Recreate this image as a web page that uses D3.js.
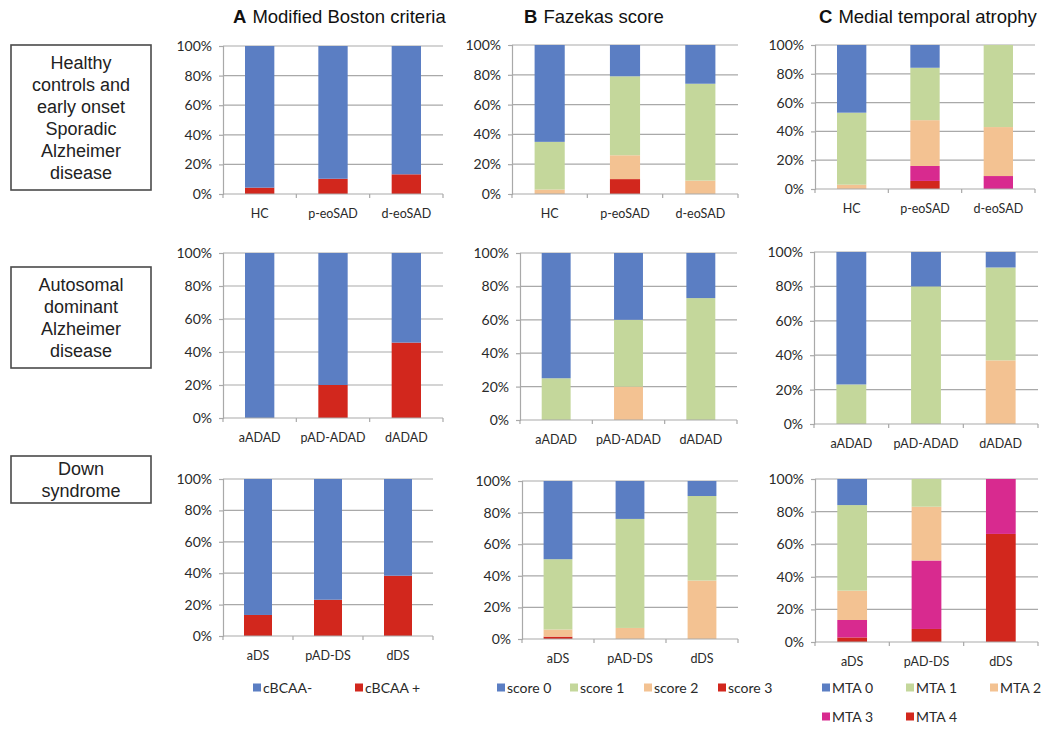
<!DOCTYPE html>
<html>
<head>
<meta charset="utf-8">
<script src="https://cdn.jsdelivr.net/npm/d3@7"></script>
<style>
  html, body { margin: 0; padding: 0; background: #fff; }
  svg { display: block; }
</style>
</head>
<body>
<svg id="chart" width="1060" height="730"></svg>
<script>
// ---- Data (percent of participants per group) ----
const rowGroups = [
  ["HC", "p-eoSAD", "d-eoSAD"],
  ["aADAD", "pAD-ADAD", "dADAD"],
  ["aDS", "pAD-DS", "dDS"]
];
const rowTitles = [
  ["Healthy", "controls and", "early onset", "Sporadic", "Alzheimer", "disease"],
  ["Autosomal", "dominant", "Alzheimer", "disease"],
  ["Down", "syndrome"]
];
const tickLabels = ["0%", "20%", "40%", "60%", "80%", "100%"];
const tickValues = [0, 20, 40, 60, 80, 100];

// A: modified Boston criteria
const bostonKeys = ["cBCAA-", "cBCAA +"];
const cbcaaNeg = [[95.7, 89.7, 86.7], [100, 80, 54.3], [86.6, 76.9, 61.6]];
const cbcaaPos = [[4.3, 10.3, 13.3], [0, 20, 45.7], [13.4, 23.1, 38.4]];

// B: Fazekas score
const fazekasKeys = ["score 0", "score 1", "score 2", "score 3"];
const score0 = [[65, 21, 26], [75, 40, 27], [49.5, 24, 9.5]];
const score1 = [[32, 53, 65], [25, 40, 73], [44.5, 69, 53.5]];
const score2 = [[3, 16, 9], [0, 20, 0], [4.5, 7, 37]];
const score3 = [[0, 10, 0], [0, 0, 0], [1.5, 0, 0]];

// C: medial temporal atrophy
const mtaKeys = ["MTA 0", "MTA 1", "MTA 2", "MTA 3", "MTA 4"];
const mta0 = [[47, 15.8, 0], [77, 20, 9], [16, 0, 0]];
const mta1 = [[50, 36.4, 57], [23, 80, 54], [52.5, 17, 0]];
const mta2 = [[3, 31.8, 34], [0, 0, 37], [18, 33, 0]];
const mta3 = [[0, 10.4, 9], [0, 0, 0], [10.7, 42, 33.7]];
const mta4 = [[0, 5.6, 0], [0, 0, 0], [2.8, 8, 66.3]];

// ---- Styling ----
const C_BLUE = "#5b7ec3", C_RED = "#d2271d", C_GREEN = "#c4d79b",
      C_PEACH = "#f3c292", C_MAGENTA = "#d82a8f";
const GRID = "#a9a9a9";
const TICK_FONT = "Lato, 'Open Sans', sans-serif";

const columns = [
  { letter: "A", title: "Modified Boston criteria", keys: bostonKeys,
    series: [cbcaaNeg, cbcaaPos], colors: [C_BLUE, C_RED],
    titleX: 233, legendX: [253, 355], legendRow: [0, 0] },
  { letter: "B", title: "Fazekas score", keys: fazekasKeys,
    series: [score0, score1, score2, score3],
    colors: [C_BLUE, C_GREEN, C_PEACH, C_RED],
    titleX: 524, legendX: [497, 570, 644, 718], legendRow: [0, 0, 0, 0] },
  { letter: "C", title: "Medial temporal atrophy", keys: mtaKeys,
    series: [mta0, mta1, mta2, mta3, mta4],
    colors: [C_BLUE, C_GREEN, C_PEACH, C_MAGENTA, C_RED],
    titleX: 819, legendX: [822, 906, 990, 822, 906], legendRow: [0, 0, 0, 1, 1] }
];

// Plot frames per [row][column]: left, right, top (100%), bottom (0%)
const frames = [
  [{ l: 223, r: 443, t: 46, b: 194 }, { l: 512, r: 738, t: 45, b: 194 }, { l: 815, r: 1035, t: 45, b: 189 }],
  [{ l: 223, r: 443, t: 253, b: 418 }, { l: 520, r: 737, t: 253, b: 420 }, { l: 814, r: 1038, t: 252, b: 424 }],
  [{ l: 223, r: 433, t: 479, b: 636 }, { l: 522, r: 738, t: 481, b: 639 }, { l: 815, r: 1038, t: 479, b: 642 }]
];
const boxes = [
  { x: 11, y: 45, w: 140, h: 145 },
  { x: 11, y: 267, w: 140, h: 101 },
  { x: 11, y: 456, w: 140, h: 47 }
];

const svg = d3.select("#chart");

// Column titles
columns.forEach(col => {
  const t = svg.append("text")
    .attr("x", col.titleX).attr("y", 23)
    .attr("font-family", "'Liberation Sans', Arial, sans-serif")
    .attr("font-size", 18.5).attr("fill", "#111");
  t.append("tspan").attr("font-weight", "bold").text(col.letter);
  t.append("tspan").attr("dx", 6).text(col.title);
});

// Row label boxes
boxes.forEach((bx, i) => {
  svg.append("rect")
    .attr("x", bx.x).attr("y", bx.y).attr("width", bx.w).attr("height", bx.h)
    .attr("fill", "#fff").attr("stroke", "#4a4a4a").attr("stroke-width", 1.6);
  const lines = rowTitles[i];
  const lh = 22;
  const cy = bx.y + bx.h / 2;
  lines.forEach((ln, k) => {
    svg.append("text")
      .attr("x", bx.x + bx.w / 2)
      .attr("y", cy + (k - (lines.length - 1) / 2) * lh)
      .attr("dy", "0.36em")
      .attr("text-anchor", "middle")
      .attr("font-family", "'Liberation Sans', Arial, sans-serif")
      .attr("font-size", 18).attr("fill", "#222")
      .text(ln);
  });
});

// Panels
rowGroups.forEach((groups, ri) => {
  columns.forEach((col, ci) => {
    const f = frames[ri][ci];
    const g = svg.append("g");

    const x = d3.scaleBand().domain(groups).range([f.l, f.r]).padding(0);
    const y = d3.scaleLinear().domain([0, 100]).range([f.b, f.t]);

    // horizontal gridlines
    g.selectAll(".grid").data(tickValues.filter(v => v > 0)).join("line")
      .attr("x1", f.l).attr("x2", f.r)
      .attr("y1", d => y(d)).attr("y2", d => y(d))
      .attr("stroke", GRID).attr("stroke-width", 1.2);

    // stacked bars: first key sits on top, last key at the bottom
    const rows = groups.map((grp, gi) => {
      const o = { group: grp };
      col.keys.forEach((k, si) => { o[k] = col.series[si][ri][gi]; });
      return o;
    });
    const stackKeys = col.keys.slice().reverse();
    const stacked = d3.stack().keys(stackKeys)(rows);
    const colorOf = k => col.colors[col.keys.indexOf(k)];
    const barW = x.bandwidth() * 0.4;

    stacked.forEach(layer => {
      g.selectAll(null).data(layer).join("rect")
        .attr("x", d => x(d.data.group) + (x.bandwidth() - barW) / 2)
        .attr("width", barW)
        .attr("y", d => y(d[1]))
        .attr("height", d => Math.max(0, y(d[0]) - y(d[1])))
        .attr("fill", colorOf(layer.key));
    });

    // y axis
    const yAxis = d3.axisLeft(y).tickValues(tickValues)
      .tickFormat((d, i) => tickLabels[i]).tickSize(4).tickPadding(7);
    const ya = g.append("g").attr("transform", `translate(${f.l},0)`).call(yAxis);
    ya.select(".domain").attr("stroke", GRID).attr("stroke-width", 1.2);
    ya.selectAll(".tick line").attr("stroke", GRID).attr("stroke-width", 1.2);
    ya.selectAll(".tick text")
      .attr("font-family", TICK_FONT).attr("font-size", 14)
      .attr("fill", "#2a2a2a");

    // x axis with boundary ticks
    g.append("line")
      .attr("x1", f.l).attr("x2", f.r).attr("y1", f.b).attr("y2", f.b)
      .attr("stroke", GRID).attr("stroke-width", 1.2);
    const bounds = groups.map(d => x(d)).concat([f.r]);
    g.selectAll(".xt").data(bounds).join("line")
      .attr("x1", d => d).attr("x2", d => d)
      .attr("y1", f.b).attr("y2", f.b + 4)
      .attr("stroke", GRID).attr("stroke-width", 1.2);
    g.selectAll(".xl").data(groups).join("text")
      .attr("x", d => x(d) + x.bandwidth() / 2)
      .attr("y", f.b + 20).attr("dy", "0.35em")
      .attr("text-anchor", "middle")
      .attr("font-family", TICK_FONT).attr("font-size", 12.5)
      .attr("fill", "#2a2a2a")
      .text(d => d);
  });
});

// Legends
columns.forEach(col => {
  col.keys.forEach((k, i) => {
    const lx = col.legendX[i];
    const ly = 688 + col.legendRow[i] * 29;
    svg.append("rect")
      .attr("x", lx).attr("y", ly - 4.5).attr("width", 8).attr("height", 8)
      .attr("fill", col.colors[i]);
    svg.append("text")
      .attr("x", lx + 10).attr("y", ly).attr("dy", "0.35em")
      .attr("font-family", TICK_FONT).attr("font-size", 14)
      .attr("fill", "#2a2a2a")
      .text(k);
  });
});
</script>
</body>
</html>
